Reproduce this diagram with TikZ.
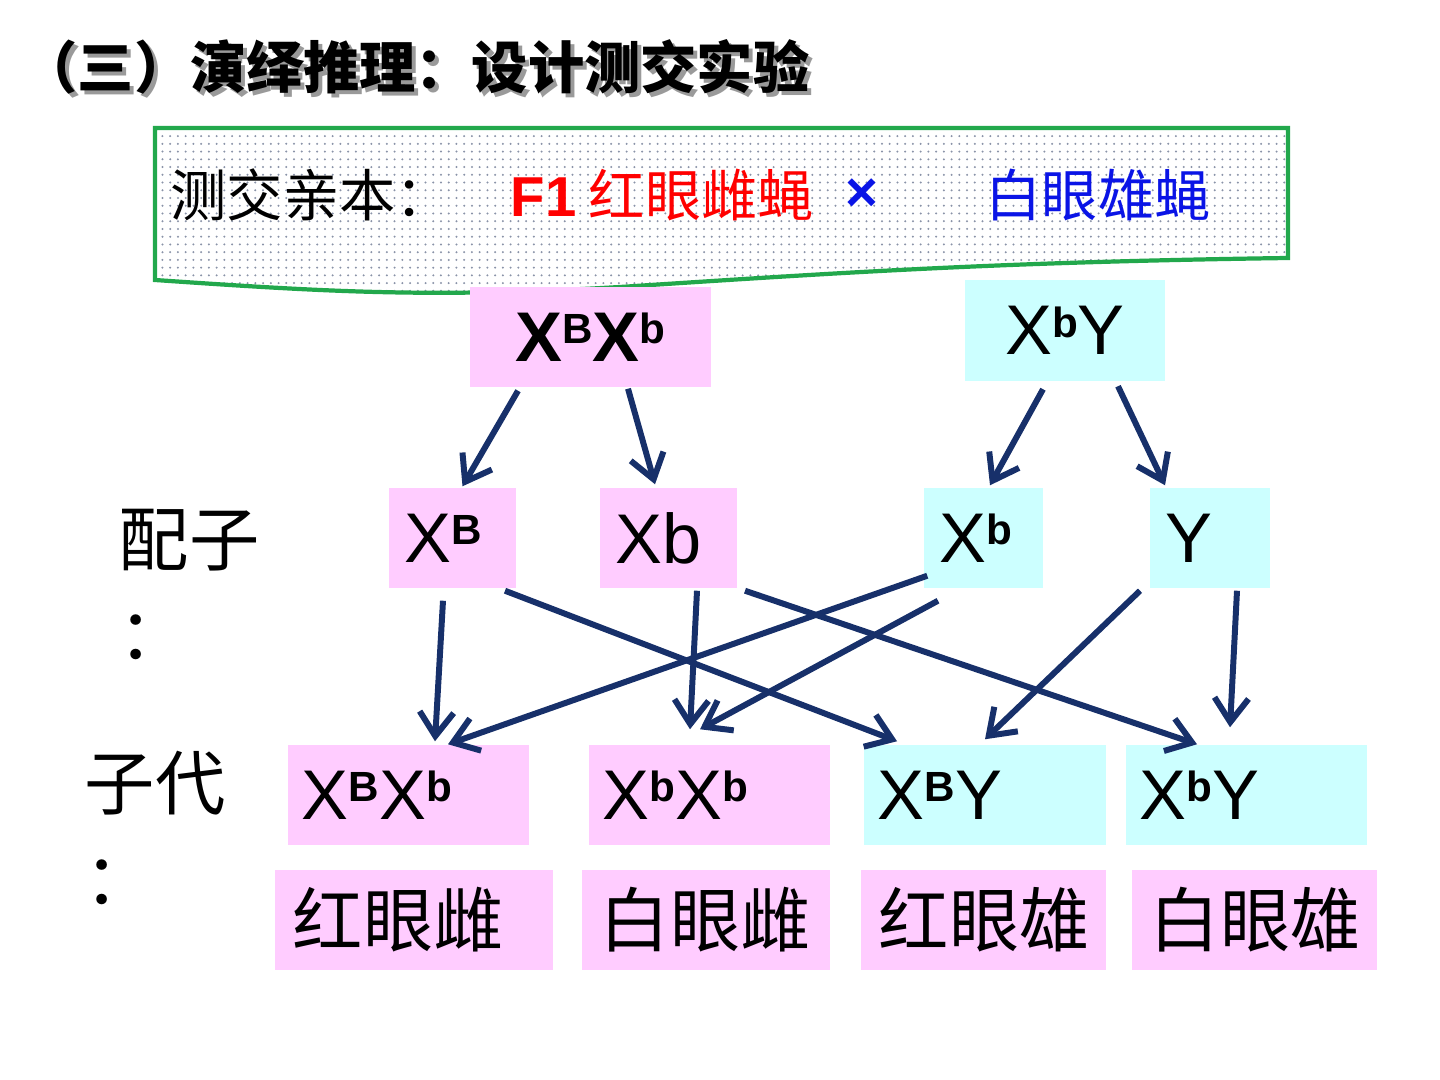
\documentclass[tikz,border=0pt]{standalone}
\usepackage{fontspec}
\setmainfont{Liberation Sans}
\newfontfamily\cjk{Noto Sans CJK SC}
\usetikzlibrary{arrows.meta,calc,patterns.meta}
\definecolor{femfill}{HTML}{FFCCFF}
\definecolor{malefill}{HTML}{CCFFFF}
\definecolor{arrowline}{HTML}{17306A}
\definecolor{bannerborder}{HTML}{22A84C}
\definecolor{redtext}{HTML}{FF0000}
\definecolor{bluetext}{HTML}{0A14E6}
\definecolor{shadowgray}{HTML}{9A9A9A}
\definecolor{dotgray}{HTML}{8A93A8}
\newcommand{\allele}[1]{\raisebox{5pt}{\fontsize{12}{12}\selectfont\bfseries #1}}
\tikzset{
  gbox/.style={rectangle, inner ysep=0pt, minimum height=1.0cm, font=\fontsize{20}{20}\selectfont},
  parent/.style={gbox, inner xsep=0pt, font=\fontsize{20}{20}\selectfont\bfseries},
  gamete/.style={gbox, inner xsep=0.16cm, align=left},
  child/.style={gbox, inner xsep=0.14cm, align=left},
  trait/.style={gbox, inner xsep=0.18cm, align=left, font=\cjk\fontsize{20}{20}\selectfont},
  rowlabel/.style={inner sep=0pt, align=left, anchor=north west, font=\cjk\fontsize{20}{27}\selectfont},
  bannertext/.style={inner sep=0pt, anchor=base west, font=\cjk\fontsize{16}{16}\selectfont},
  titletext/.style={inner sep=0pt, anchor=base west, font=\cjk\bfseries\fontsize{16}{16}\selectfont},
  banner/.style={draw=bannerborder, line width=1.2pt,
                 pattern={Dots[distance=2.2pt, radius=0.32pt]}, pattern color=dotgray},
  flow/.style={-{Straight Barb[length=2.4mm, width=3.4mm]}, line width=1.7pt, draw=arrowline}
}

\begin{document}
\begin{tikzpicture}[x=0.01cm, y=-0.01cm]
\useasboundingbox (0,0) rectangle (1440,1080);

%% Title with its shadow
\node[titletext, text=shadowgray] (titleshadow) at (25,93) {（三）演绎推理：设计测交实验};
\node[titletext] (title) at (21,89) {（三）演绎推理：设计测交实验};

%% Banner: test-cross parents
\draw[banner] (155,128) -- (1288,128) -- (1288,258)
  .. controls (1000,262) and (850,272) .. (620,287)
  .. controls (430,298) and (330,292) .. (155,280) -- cycle;
\node[bannertext] (crosslabel) at (170,217) {测交亲本：};
\node[bannertext, text=redtext] (femparent) at (510,217) {{\rmfamily\bfseries F1} 红眼雌蝇};
\node[bannertext, anchor=base, text=bluetext, font=\bfseries\fontsize{16}{16}\selectfont] (crosssign) at (862,212) {×};
\node[bannertext, text=bluetext] (maleparent) at (985,217) {白眼雄蝇};

%% Parents
\node[parent, fill=femfill, minimum width=2.41cm] (p1) at (590.5,337) {X\allele{B}X\allele{b}};
\node[parent, fill=malefill, minimum width=2.00cm, font=\fontsize{20}{20}\selectfont] (p2) at (1065,330.5) {X\allele{b}Y};

%% Gametes
\node[rowlabel] (gamlabel) at (118,508) {配子\\：};
\node[gamete, fill=femfill,  text width=0.95cm] (gXB)  at (452.5,538) {X\allele{B}};
\node[gamete, fill=femfill,  text width=1.05cm] (gXb)  at (668.5,538) {Xb};
\node[gamete, fill=malefill, text width=0.87cm] (gXbm) at (983.5,538) {X\allele{b}};
\node[gamete, fill=malefill, text width=0.88cm] (gY)   at (1210,538) {Y};

%% Offspring genotypes
\node[rowlabel] (kidlabel) at (84,750) {子代\\：};
\node[child, fill=femfill,  text width=2.13cm] (o1) at (408.5,795) {X\allele{B}X\allele{b}};
\node[child, fill=femfill,  text width=2.13cm] (o2) at (709.5,795) {X\allele{b}X\allele{b}};
\node[child, fill=malefill, text width=2.14cm] (o3) at (985,795)   {X\allele{B}Y};
\node[child, fill=malefill, text width=2.13cm] (o4) at (1246.5,795) {X\allele{b}Y};

%% Offspring phenotypes
\node[trait, fill=femfill, text width=2.42cm] (f1) at (414,920)    {红眼雌};
\node[trait, fill=femfill, text width=2.12cm] (f2) at (706,920)    {白眼雌};
\node[trait, fill=femfill, text width=2.09cm] (f3) at (983.5,920)  {红眼雄};
\node[trait, fill=femfill, text width=2.09cm] (f4) at (1254.5,920) {白眼雄};

%% Flow
% Parents -> gametes
\draw[flow] ($(p1.south)+(-72.5,3)$) -- ($(gXB.north)+(10,-1)$);
\draw[flow] ($(p1.south)+(37.5,1)$)  -- ($(gXb.north)+(-13.5,-3)$);
\draw[flow] ($(p2.south)+(-22,8)$)   -- ($(gXbm.north)+(6.5,-2)$);
\draw[flow] ($(p2.south)+(53,5)$)    -- ($(gY.north)+(-45,-2)$);
% Gametes -> offspring
\draw[flow] ($(gXB.south)+(-9.5,12)$)      -- ($(o1.north)+(26.5,-3)$);
\draw[flow] ($(gXB.south)+(52.5,2)$)       -- ($(o3.north)+(-88,-3)$);
\draw[flow] ($(gXb.south)+(28.5,2)$)       -- ($(o2.north)+(-19.5,-15)$);
\draw[flow] ($(gXb.south)+(76.5,2)$)       -- ($(o4.north)+(-49.5,0)$);
\draw[flow] ($(gXbm.south west)+(4,-13)$)  -- ($(o1.north)+(39.5,0)$);
\draw[flow] ($(gXbm.south)+(-45.5,12)$)    -- ($(o2.north)+(-9.5,-15)$);
\draw[flow] ($(gY.south)+(-70,2)$)         -- ($(o3.north)+(0,-5)$);
\draw[flow] ($(gY.south)+(27,2)$)          -- ($(o4.north)+(-16.5,-17)$);

\end{tikzpicture}
\end{document}
